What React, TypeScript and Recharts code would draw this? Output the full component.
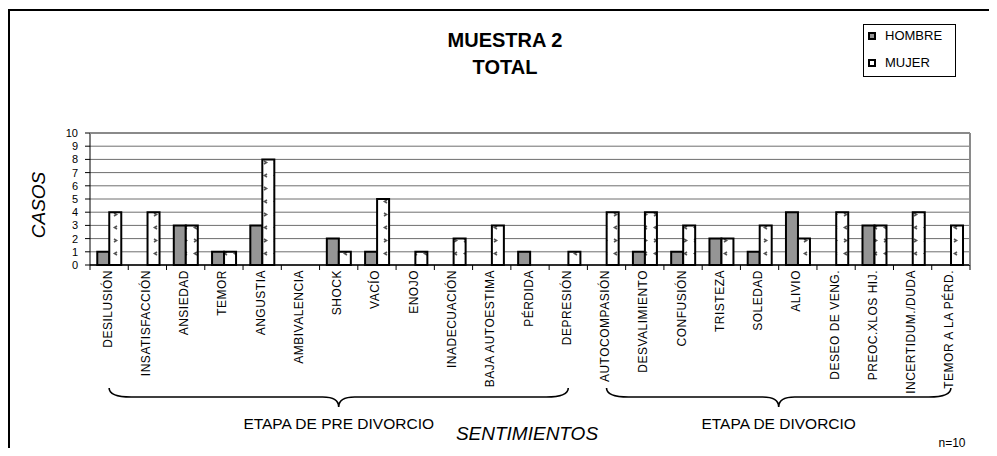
import React from 'react'
import { ComposedChart, Bar, XAxis, YAxis, CartesianGrid } from 'recharts'

const categories = [
  'DESILUSIÓN', 'INSATISFACCIÓN', 'ANSIEDAD', 'TEMOR', 'ANGUSTIA', 'AMBIVALENCIA',
  'SHOCK', 'VACÍO', 'ENOJO', 'INADECUACIÓN', 'BAJA AUTOESTIMA', 'PÉRDIDA', 'DEPRESIÓN',
  'AUTOCOMPASIÓN', 'DESVALIMIENTO', 'CONFUSIÓN', 'TRISTEZA', 'SOLEDAD', 'ALIVIO',
  'DESEO DE VENG.', 'PREOC.XLOS HIJ.', 'INCERTIDUM./DUDA', 'TEMOR A LA PÉRD.'
]
const hombre = [1, 0, 3, 1, 3, 0, 2, 1, 0, 0, 0, 1, 0, 0, 1, 1, 2, 1, 4, 0, 3, 0, 0]
const mujer = [4, 4, 3, 1, 8, 0, 1, 5, 1, 2, 3, 0, 1, 4, 4, 3, 2, 3, 2, 4, 3, 4, 3]
const yTicks = [0, 1, 2, 3, 4, 5, 6, 7, 8, 9, 10]

// stage groups (first and last category index under each brace)
const stages = [
  { label: 'ETAPA DE PRE DIVORCIO', from: 0, to: 12 },
  { label: 'ETAPA DE DIVORCIO', from: 13, to: 22 }
]

const data = categories.map((name, i) => ({ name, HOMBRE: hombre[i], MUJER: mujer[i] }))

const W = 997
const H = 456
const PLOT_L = 90
const PLOT_R = 970
const PLOT_T = 133
const PLOT_B = 265
const BAND = (PLOT_R - PLOT_L) / categories.length
const FONT = '"Liberation Sans", Arial, sans-serif'
const GREY = '#959595'

const catCenter = (i: number) => PLOT_L + BAND * (i + 0.5)

const CategoryTick = (props: any) => {
  const { x, y, payload, index } = props
  const left = x - BAND / 2
  return (
    <g>
      <line x1={left} y1={y} x2={left} y2={y + 5} stroke="#000" />
      {index === categories.length - 1 && (
        <line x1={x + BAND / 2} y1={y} x2={x + BAND / 2} y2={y + 5} stroke="#000" />
      )}
      <text
        x={x + 2.5}
        y={y + 5}
        transform={`rotate(-90, ${x + 2.5}, ${y + 5})`}
        textAnchor="end"
        fontSize={12}
        fontFamily={FONT}
        letterSpacing={0.5}
        fill="#000"
      >
        {payload.value}
      </text>
    </g>
  )
}

const bracePath = (x0: number, x1: number) => {
  const top = 388
  const mid = 397
  const tip = 407
  const c = (x0 + x1) / 2
  return `M${x0},${top} Q${x0},${mid} ${x0 + 22},${mid} L${c - 16},${mid} Q${c},${mid} ${c},${tip} Q${c},${mid} ${c + 16},${mid} L${x1 - 22},${mid} Q${x1},${mid} ${x1},${top}`
}

export default function App() {
  return (
    <div style={{ position: 'relative', width: W, height: H, margin: -8, background: '#fff' }}>
      <ComposedChart
        width={W}
        height={H}
        data={data}
        margin={{ top: PLOT_T, right: W - PLOT_R, bottom: 161, left: 50 }}
        barCategoryGap="19%"
        barGap={0}
      >
        <defs>
          <pattern id="mujerDots" width="10" height="26" patternUnits="userSpaceOnUse">
            <rect width="10" height="26" fill="#fff" />
            <path d="M4,5 L6.5,6.5 L4,8" stroke="#555" strokeWidth="1.6" fill="none" />
            <path d="M7,18 L4.5,19.5 L7,21" stroke="#555" strokeWidth="1.6" fill="none" />
          </pattern>
        </defs>
        <CartesianGrid vertical={false} stroke="#6e6e6e" strokeWidth={1} />
        <XAxis
          dataKey="name"
          height={30}
          interval={0}
          tickSize={0}
          tickMargin={0}
          tickLine={false}
          axisLine={{ stroke: '#000', strokeWidth: 1.5 }}
          tick={<CategoryTick />}
        />
        <YAxis
          width={40}
          domain={[0, 10]}
          ticks={yTicks}
          interval={0}
          tickSize={5}
          tickMargin={7}
          axisLine={{ stroke: '#000' }}
          tickLine={{ stroke: '#000' }}
          tick={{ fontSize: 11, fill: '#000', fontFamily: FONT }}
        />
        <Bar dataKey="HOMBRE" fill={GREY} stroke="#000" strokeWidth={2} isAnimationActive={false} />
        <Bar dataKey="MUJER" fill="url(#mujerDots)" stroke="#000" strokeWidth={2} isAnimationActive={false} />
      </ComposedChart>

      <svg
        width={W}
        height={H}
        style={{ position: 'absolute', left: 0, top: 0, pointerEvents: 'none' }}
        fontFamily={FONT}
      >
        {/* outer frame */}
        <path d={`M9,${H} L9,10 L${W},10`} stroke="#000" strokeWidth={2} fill="none" />
        {/* plot area border */}
        <line x1={PLOT_L} y1={PLOT_T} x2={PLOT_R} y2={PLOT_T} stroke="#8a8a8a" strokeWidth={2} />
        <line x1={PLOT_R} y1={PLOT_T} x2={PLOT_R} y2={PLOT_B} stroke="#8a8a8a" strokeWidth={2} />

        <text x={505} y={47} textAnchor="middle" fontSize={20} fontWeight="bold">MUESTRA 2</text>
        <text x={505} y={74} textAnchor="middle" fontSize={20} fontWeight="bold">TOTAL</text>

        <text
          x={45}
          y={205}
          transform="rotate(-90, 45, 205)"
          textAnchor="middle"
          fontSize={19}
          fontStyle="italic"
        >
          CASOS
        </text>

        {/* legend */}
        <rect x={863.5} y={24.5} width={92} height={52} fill="#fff" stroke="#000" strokeWidth={1} />
        <rect x={869} y={33} width={6} height={6} fill={GREY} stroke="#000" strokeWidth={2} />
        <text x={885} y={40} fontSize={13}>HOMBRE</text>
        <rect x={869} y={60} width={6} height={6} fill="#fff" stroke="#000" strokeWidth={2} />
        <text x={885} y={67} fontSize={13}>MUJER</text>

        {stages.map((s) => {
          const x0 = catCenter(s.from)
          const x1 = catCenter(s.to)
          return (
            <g key={s.label}>
              <path d={bracePath(x0, x1)} stroke="#000" strokeWidth={1.6} fill="none" />
              <text x={(x0 + x1) / 2} y={429} textAnchor="middle" fontSize={15.5}>{s.label}</text>
            </g>
          )
        })}

        <text x={527} y={440} textAnchor="middle" fontSize={19} fontStyle="italic">SENTIMIENTOS</text>
        <text x={952} y={447} textAnchor="middle" fontSize={12}>n=10</text>
      </svg>
    </div>
  )
}
